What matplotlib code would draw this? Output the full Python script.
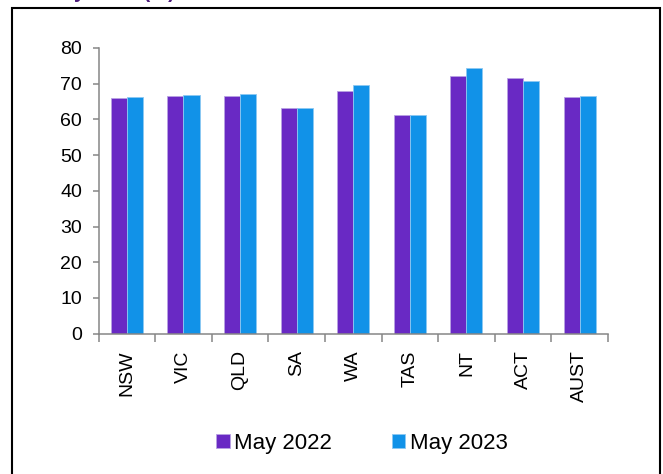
import numpy as np
import matplotlib.pyplot as plt
from matplotlib.patches import Rectangle

plt.rcParams['font.family'] = ['Liberation Sans', 'DejaVu Sans']

states = ["NSW", "VIC", "QLD", "SA", "WA", "TAS", "NT", "ACT", "AUST"]
may_2022 = [65.9, 66.5, 66.5, 63.2, 67.9, 61.2, 72.2, 71.6, 66.2]
may_2023 = [66.2, 66.8, 67.2, 63.1, 69.5, 61.2, 74.3, 70.7, 66.6]

purple = '#6929C4'
blue = '#1192E8'
axis_grey = '#868686'

fig = plt.figure(figsize=(6.63, 4.74), dpi=100)
ax = fig.add_axes([0.1487, 0.296, 0.917 - 0.1487, 0.899 - 0.296])

x = np.arange(len(states))
w = 0.283
ax.bar(x - w / 2, may_2022, w, color=purple, edgecolor='#b8a2e3', linewidth=0.6, label='May 2022')
ax.bar(x + w / 2, may_2023, w, color=blue, edgecolor='#8cc8f2', linewidth=0.6, label='May 2023')

ax.set_xlim(-0.5, len(states) - 0.5)
ax.set_ylim(0, 80)
ax.set_yticks(range(0, 81, 10))
ax.set_xticks(x)
ax.set_xticklabels(states, rotation=90, fontsize=14)
ax.set_xticks(np.arange(len(states) + 1) - 0.5, minor=True)
ax.tick_params(axis='x', which='major', length=0, pad=12)
ax.tick_params(axis='x', which='minor', length=6, width=1.1, color=axis_grey, direction='out')
ax.tick_params(axis='y', length=4, width=1.1, color=axis_grey, labelsize=14, pad=8)

for s in ['top', 'right']:
    ax.spines[s].set_visible(False)
for s in ['left', 'bottom']:
    ax.spines[s].set_color(axis_grey)
    ax.spines[s].set_linewidth(1.1)

fig.legend(loc='center', bbox_to_anchor=(362 / 663, 1 - 443 / 474), ncol=2, frameon=False,
           fontsize=16, handlelength=0.6, handleheight=0.6, handletextpad=0.2, columnspacing=2.7)

# outer chart frame
fig.patches.append(Rectangle((12 / 663, -0.05), (660 - 12) / 663, 1.05 - 7.5 / 474,
                             transform=fig.transFigure, fill=False, edgecolor='black',
                             linewidth=1.5))

# title mostly cut off above the image
fig.text(175 / 663, 1 + 1.5 / 474, "Participation rate by state (%)", ha='right', va='baseline',
         fontsize=14.5, fontweight='bold', color='#4B1A7A')

fig.savefig('out.png', dpi=100)
